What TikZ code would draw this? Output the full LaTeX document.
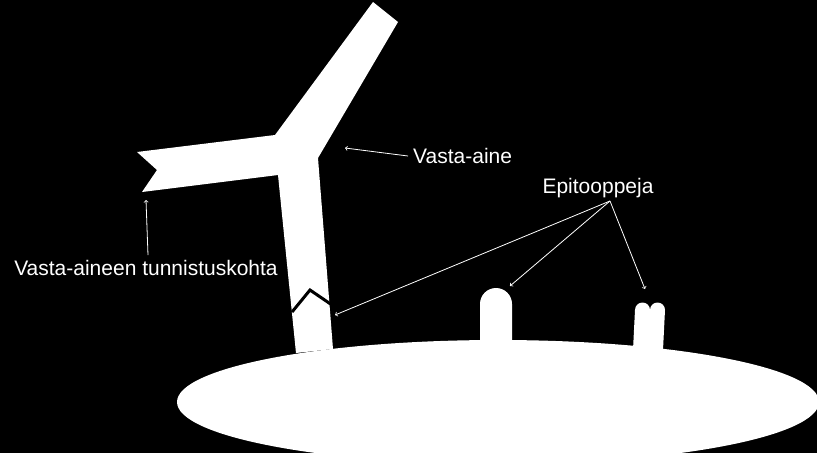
\documentclass[tikz,border=0pt]{standalone}
\usepackage{fontspec}
\setmainfont{Liberation Sans}
\begin{document}
\begin{tikzpicture}[x=1pt, y=-1pt, >=to]
\tikzset{
  whitepart/.style={fill=white, draw=none},
  tag/.style={text=white, font=\fontsize{21}{24}\selectfont, inner sep=1pt},
  pointer/.style={->, white, line width=0.8pt}
}
% background
\fill[black] (0,0) rectangle (817,453);
\useasboundingbox (0,0) rectangle (817,453);

% === Cell ===
\fill[whitepart] (498,402) ellipse [x radius=321, y radius=62];

% === Epitopes ===
\fill[whitepart] (480,346) -- (480,304) arc[start angle=180, end angle=360, radius=16] -- (512,346) -- cycle;
\fill[whitepart] (633,350) -- (635,310) arc[start angle=180, end angle=360, radius=7.5]
  arc[start angle=180, end angle=360, radius=7.5] -- (663,350) -- cycle;

% === Antibody ===
\fill[whitepart] (373,2) -- (398,22) -- (318,158) -- (333,349) -- (296,353) -- (278,175)
  -- (142,192) -- (157,170) -- (137,152) -- (275,135) -- cycle;
\draw[black, line width=3pt] (292,312) -- (310,290) -- (332,305);

% === Labels ===
\node[tag, anchor=west] (ab) at (412,156) {Vasta-aine};
\node[tag] (epi) at (598,188) {Epitooppeja};
\node[tag] (site) at (146,268) {Vasta-aineen tunnistuskohta};
\coordinate (abtip) at (345,148);
\coordinate (sitetip) at (146,200);
\coordinate (e1) at (335,315);
\coordinate (e2) at (510,286);
\coordinate (e3) at (645,289);

% === Arrows ===
\draw[pointer] ([xshift=-4pt]ab.west) -- (abtip);
\draw[pointer] ([xshift=2pt, yshift=4pt]site.north) -- (sitetip);
\foreach \t in {e1,e2,e3}
  \draw[pointer] ([xshift=12pt, yshift=-2pt]epi.south) -- (\t);
\end{tikzpicture}
\end{document}
